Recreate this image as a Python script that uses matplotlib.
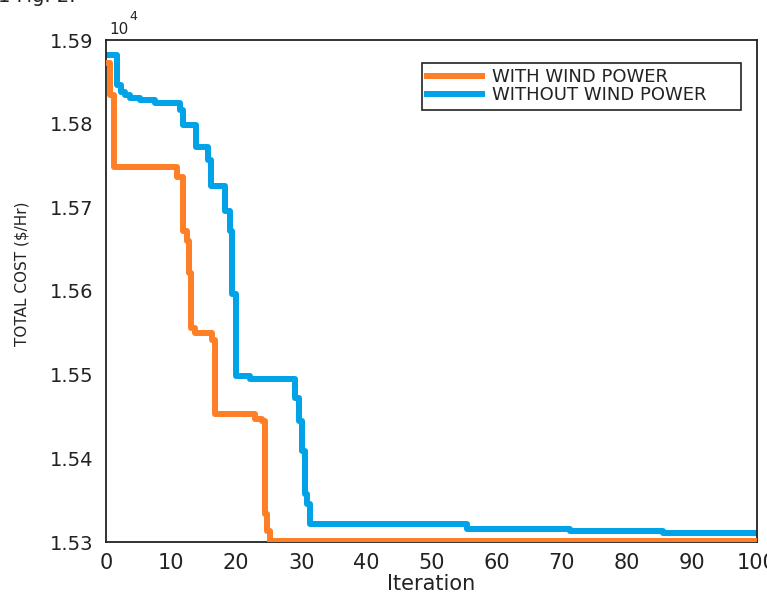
import matplotlib
matplotlib.use('Agg')
import matplotlib.pyplot as plt

# Total cost (x 10^4 $/Hr) vs iteration, step-wise convergence
iter_wind = [0, 0.6, 1.3, 10.9, 11.8, 12.4, 12.7, 13.0, 13.6, 16.3, 16.7,
             22.9, 24.0, 24.4, 24.8, 25.2, 100]
cost_wind = [1.5872, 1.5834, 1.5748, 1.5736, 1.5672, 1.5660, 1.5622, 1.5556,
             1.5550, 1.5541, 1.5453, 1.5447, 1.5445, 1.5334, 1.5313, 1.5301, 1.5301]

iter_nowind = [0, 1.7, 2.3, 2.9, 3.7, 5.2, 7.5, 11.4, 11.8, 13.8, 15.7, 16.1,
               18.3, 19.0, 19.4, 19.9, 22.1, 29.0, 29.6, 30.1, 30.6, 30.9,
               31.3, 55.5, 71.3, 85.6, 100]
cost_nowind = [1.5882, 1.5846, 1.5838, 1.5834, 1.5831, 1.5828, 1.5825, 1.5816,
               1.5798, 1.5772, 1.5756, 1.5726, 1.5696, 1.5672, 1.5597, 1.5499,
               1.5495, 1.5472, 1.5445, 1.5409, 1.5357, 1.5345, 1.5321, 1.5316,
               1.5313, 1.5311, 1.5311]

orange = '#FF7F27'
blue = '#00A2E8'
txt = '#222222'

fig = plt.figure(figsize=(7.67, 6.01), dpi=100)
ax = fig.add_axes([106 / 767, 1 - 542 / 601, 651 / 767, 502 / 601])

ax.plot(iter_wind, cost_wind, drawstyle='steps-post', color=orange, lw=4.3,
        label='WITH WIND POWER', zorder=3)
ax.plot(iter_nowind, cost_nowind, drawstyle='steps-post', color=blue, lw=4.3,
        label='WITHOUT WIND POWER', zorder=2)

ax.set_xlim(0, 100)
ax.set_ylim(1.53, 1.59)
ax.set_xticks(range(0, 101, 10))
ax.set_yticks([1.53, 1.54, 1.55, 1.56, 1.57, 1.58, 1.59])
ax.set_yticklabels(['1.53', '1.54', '1.55', '1.56', '1.57', '1.58', '1.59'])
ax.tick_params(axis='both', length=0, colors=txt)
ax.tick_params(axis='x', labelsize=15, pad=8)
ax.tick_params(axis='y', labelsize=14, pad=9)
for s in ax.spines.values():
    s.set_linewidth(1.3)
    s.set_color(txt)

ax.set_xlabel('Iteration', fontsize=15, color=txt, labelpad=1)
fig.text(22 / 767, 1 - 274 / 601, 'TOTAL COST ($/Hr)', rotation=90, fontsize=11,
         color=txt, ha='center', va='center')

fig.text(109 / 767, 1 - 29 / 601, '10', fontsize=11, color=txt, ha='left', va='center')
fig.text(129 / 767, 1 - 16 / 601, '4', fontsize=9, color=txt, ha='left', va='center')
fig.text(-2 / 767, 1 - 2 / 601, '1 Fig. 2.', fontsize=14, color=txt, ha='left', va='baseline')

# legend box spans roughly x 422..741, y 63..113 px
leg = ax.legend(loc='upper left', mode='expand',
                bbox_to_anchor=(422 / 767, 1 - 113 / 601, 319 / 767, 50 / 601),
                bbox_transform=fig.transFigure,
                fontsize=13, frameon=True, fancybox=False, borderpad=0.3,
                handlelength=3.0, handletextpad=0.55, labelspacing=0.0,
                borderaxespad=0)
leg.get_frame().set_edgecolor(txt)
leg.get_frame().set_linewidth(1.2)
leg.get_frame().set_alpha(1)
for t in leg.get_texts():
    t.set_color(txt)

fig.savefig('out.png', dpi=100)
